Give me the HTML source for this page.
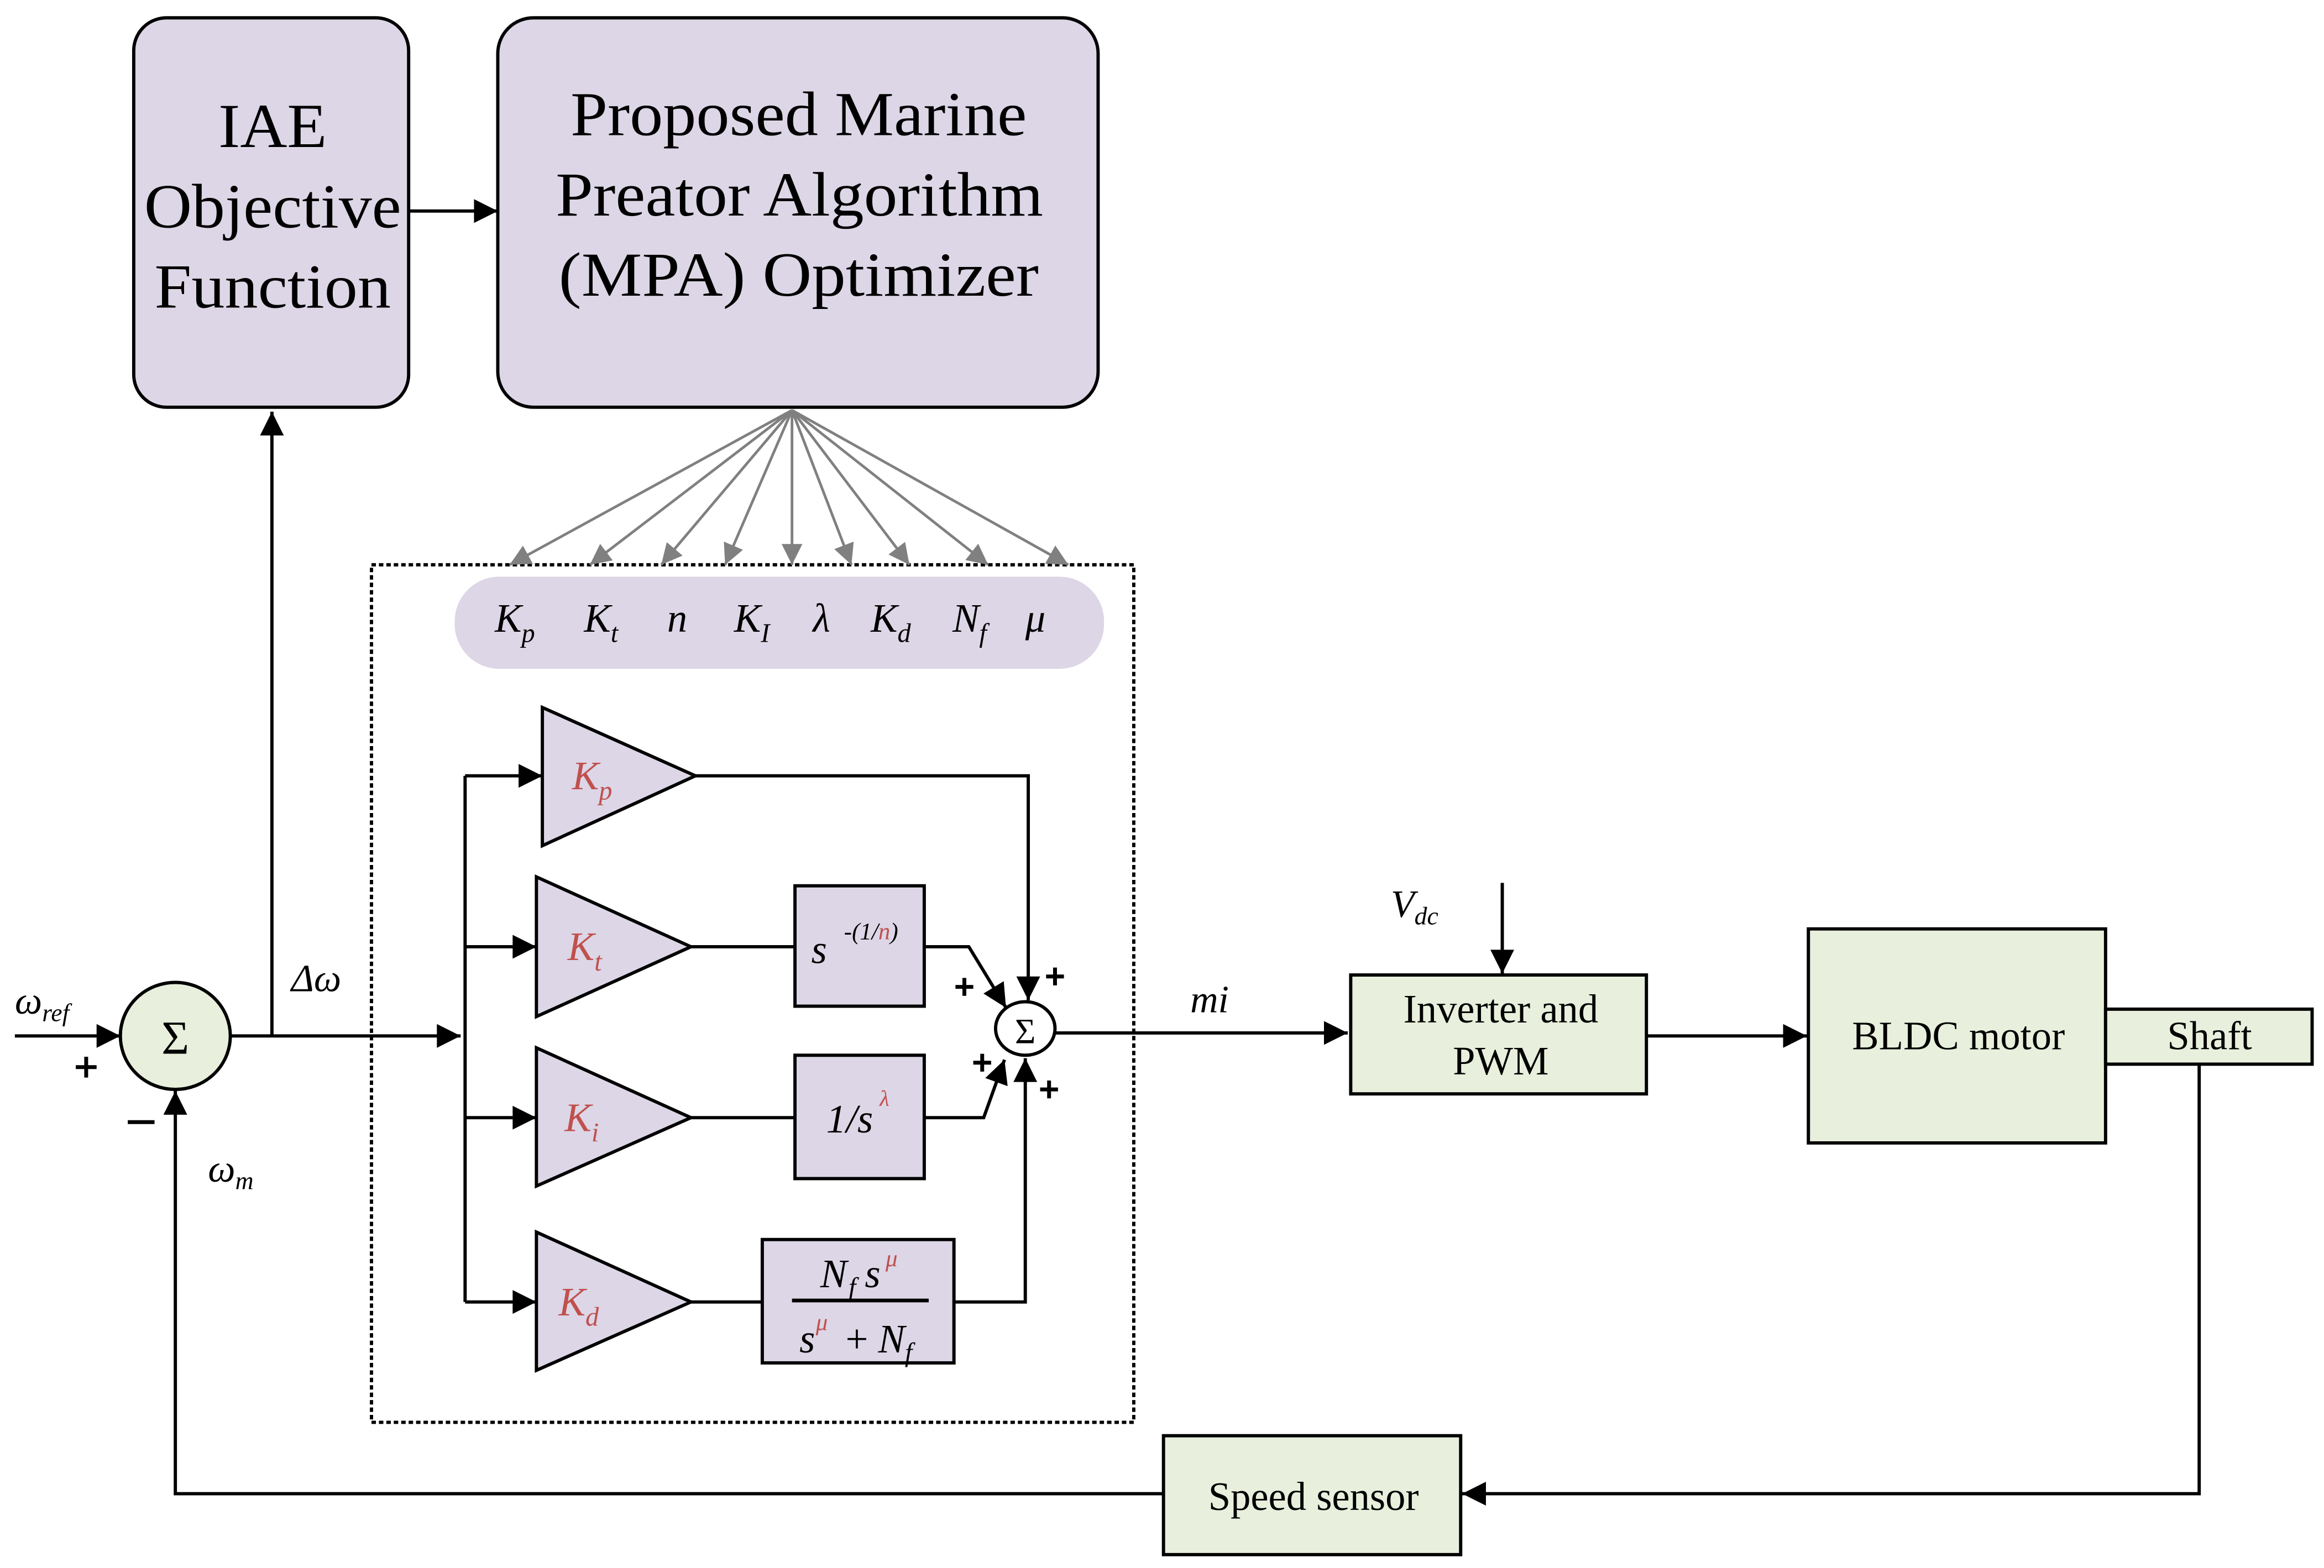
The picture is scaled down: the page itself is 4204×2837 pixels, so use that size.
<!DOCTYPE html>
<html><head><meta charset="utf-8"><style>
html,body{margin:0;padding:0;background:#fff}
svg{display:block}
text{font-family:"Liberation Serif",serif}
.i{font-style:italic}
.r{fill:#C0504D}
</style></head><body>
<svg width="4204" height="2837" viewBox="0 0 1564 1055" preserveAspectRatio="none" xmlns="http://www.w3.org/2000/svg">
<defs>
<marker id="b" viewBox="0 0 10 10" refX="10" refY="5" markerWidth="22" markerHeight="16" markerUnits="userSpaceOnUse" orient="auto"><path d="M0,0L10,5L0,10z" fill="#000"/></marker>
<marker id="g" viewBox="0 0 10 10" refX="10" refY="5" markerWidth="16" markerHeight="14" markerUnits="userSpaceOnUse" orient="auto"><path d="M0,0L10,5L0,10z" fill="#808080"/></marker>
</defs>
<g stroke="#000" stroke-width="2.2" fill="none">
<rect x="90" y="12" width="185" height="262" rx="22" fill="#DCD6E6"/>
<rect x="335" y="12" width="404" height="262" rx="24" fill="#DCD6E6"/>
<line x1="275" y1="142" x2="335" y2="142" marker-end="url(#b)"/>
<rect x="250" y="380" width="513" height="577" stroke-dasharray="3,2"/>
</g>
<g stroke="#808080" stroke-width="1.8">
<line x1="533" y1="276" x2="343" y2="380" marker-end="url(#g)"/>
<line x1="533" y1="276" x2="397" y2="380" marker-end="url(#g)"/>
<line x1="533" y1="276" x2="445" y2="380" marker-end="url(#g)"/>
<line x1="533" y1="276" x2="488" y2="380" marker-end="url(#g)"/>
<line x1="533" y1="276" x2="533" y2="380" marker-end="url(#g)"/>
<line x1="533" y1="276" x2="573" y2="380" marker-end="url(#g)"/>
<line x1="533" y1="276" x2="612" y2="380" marker-end="url(#g)"/>
<line x1="533" y1="276" x2="665" y2="380" marker-end="url(#g)"/>
<line x1="533" y1="276" x2="719" y2="380" marker-end="url(#g)"/>
</g>
<rect x="306" y="388" width="437" height="62" rx="30" fill="#DCD6E6"/>
<g font-size="42">
<text x="147" y="99" textLength="73" lengthAdjust="spacingAndGlyphs">IAE</text>
<text x="97" y="153" textLength="173" lengthAdjust="spacingAndGlyphs">Objective</text>
<text x="104" y="207" textLength="159" lengthAdjust="spacingAndGlyphs">Function</text>
<text x="384" y="91" textLength="307" lengthAdjust="spacingAndGlyphs">Proposed Marine</text>
<text x="374" y="145" textLength="328" lengthAdjust="spacingAndGlyphs">Preator Algorithm</text>
<text x="376" y="199" textLength="323" lengthAdjust="spacingAndGlyphs">(MPA) Optimizer</text>
</g>
<g font-size="27" class="i">
<text x="333" y="425" class="i">K<tspan font-size="18" dy="7">p</tspan></text>
<text x="393" y="425" class="i">K<tspan font-size="18" dy="7">t</tspan></text>
<text x="449" y="425" class="i">n</text>
<text x="494" y="425" class="i">K<tspan font-size="18" dy="7">I</tspan></text>
<text x="547" y="425" class="i">λ</text>
<text x="586" y="425" class="i">K<tspan font-size="18" dy="7">d</tspan></text>
<text x="641" y="425" class="i">N<tspan font-size="18" dy="7">f</tspan></text>
<text x="690" y="425" class="i">μ</text>
</g>
<g stroke="#000" stroke-width="2.2" fill="none">
<polygon points="365,476 365,569 468,522" fill="#DCD6E6"/>
<polygon points="361,590 361,684 465,637" fill="#DCD6E6"/>
<polygon points="361,705 361,798 465,752" fill="#DCD6E6"/>
<polygon points="361,829 361,922 465,876" fill="#DCD6E6"/>
<rect x="535" y="596" width="87" height="81" fill="#DCD6E6"/>
<rect x="535" y="710" width="87" height="83" fill="#DCD6E6"/>
<rect x="513" y="834" width="129" height="83" fill="#DCD6E6"/>
<line x1="313" y1="522" x2="313" y2="876"/>
<line x1="155" y1="697" x2="310" y2="697" marker-end="url(#b)"/>
<line x1="313" y1="522" x2="365" y2="522" marker-end="url(#b)"/>
<line x1="313" y1="637" x2="361" y2="637" marker-end="url(#b)"/>
<line x1="313" y1="752" x2="361" y2="752" marker-end="url(#b)"/>
<line x1="313" y1="876" x2="361" y2="876" marker-end="url(#b)"/>
<line x1="465" y1="637" x2="535" y2="637"/>
<line x1="465" y1="752" x2="535" y2="752"/>
<line x1="465" y1="876" x2="513" y2="876"/>
<polyline points="468,522 692,522 692,673" marker-end="url(#b)"/>
<polyline points="622,637 652,637 677,678" marker-end="url(#b)"/>
<polyline points="622,752 662,752 676,713" marker-end="url(#b)"/>
<polyline points="642,876 690,876 690,712" marker-end="url(#b)"/>
<ellipse cx="690" cy="692" rx="20" ry="18" fill="#fff"/>
<line x1="710" y1="695" x2="907" y2="695" marker-end="url(#b)"/>
<rect x="909" y="656" width="199" height="80" fill="#E8EFDC"/>
<line x1="1011" y1="594" x2="1011" y2="655" marker-end="url(#b)"/>
<line x1="1108" y1="697" x2="1216" y2="697" marker-end="url(#b)"/>
<rect x="1217" y="625" width="200" height="144" fill="#E8EFDC"/>
<rect x="1417" y="679" width="139" height="37" fill="#E8EFDC"/>
<polyline points="1480,716 1480,1005 984,1005" marker-end="url(#b)"/>
<rect x="783" y="966" width="200" height="80" fill="#E8EFDC"/>
<polyline points="783,1005 118,1005 118,734" marker-end="url(#b)"/>
<ellipse cx="118" cy="697" rx="37" ry="36" fill="#E8EFDC"/>
<line x1="10" y1="697" x2="81" y2="697" marker-end="url(#b)"/>
<line x1="183" y1="697" x2="183" y2="277" marker-end="url(#b)"/>
</g>
<text x="118" y="709" font-size="32" text-anchor="middle" font-family="Liberation Sans">Σ</text>
<text x="690" y="702" font-size="24" text-anchor="middle">Σ</text>
<g stroke="#000" stroke-width="2.6">
<path d="M51,718h14M58,711v14"/>
<path d="M86,755h18"/>
<path d="M643,664h12M649,658v12"/>
<path d="M704,657h12M710,651v12"/>
<path d="M655,715h12M661,709v12"/>
<path d="M700,733h12M706,727v12"/>
</g>
<g font-size="27">
<text x="385" y="531" class="i r">K<tspan font-size="18" dy="7">p</tspan></text>
<text x="382" y="646" class="i r">K<tspan font-size="18" dy="7">t</tspan></text>
<text x="380" y="761" class="i r">K<tspan font-size="18" dy="7">i</tspan></text>
<text x="376" y="885" class="i r">K<tspan font-size="18" dy="7">d</tspan></text>
<text x="546" y="648" class="i">s</text>
<text x="568" y="632" font-size="16" class="i">-(1/<tspan class="r">n</tspan>)</text>
<text x="556" y="762" class="i">1/s</text>
<text x="592" y="744" font-size="15" class="r i">λ</text>
<text x="552" y="866" class="i">N</text>
<text x="571" y="872" class="i" font-size="18">f</text>
<text x="582" y="866" class="i">s</text>
<text x="596" y="852" font-size="16" class="r i">μ</text>
<line x1="533" y1="875" x2="625" y2="875" stroke="#000" stroke-width="2.5"/>
<text x="538" y="910" class="i">s</text>
<text x="549" y="895" font-size="16" class="r i">μ</text>
<text x="569" y="910">+ <tspan class="i">N</tspan><tspan font-size="18" dy="6" class="i">f</tspan></text>
<text x="10" y="682" class="i" font-size="26">ω<tspan font-size="17" dy="5">ref</tspan></text>
<text x="140" y="795" class="i" font-size="26">ω<tspan font-size="17" dy="5">m</tspan></text>
<text x="196" y="667" class="i" font-size="26">Δω</text>
<text x="801" y="681" class="i" font-size="26">mi</text>
<text x="936" y="617" class="i" font-size="26">V<tspan font-size="17" dy="5">dc</tspan></text>
</g>
<g font-size="27" text-anchor="middle">
<text x="1010" y="688">Inverter and</text>
<text x="1010" y="723">PWM</text>
<text x="1318" y="706">BLDC motor</text>
<text x="1487" y="706">Shaft</text>
<text x="884" y="1016">Speed sensor</text>
</g>
</svg>
</body></html>
